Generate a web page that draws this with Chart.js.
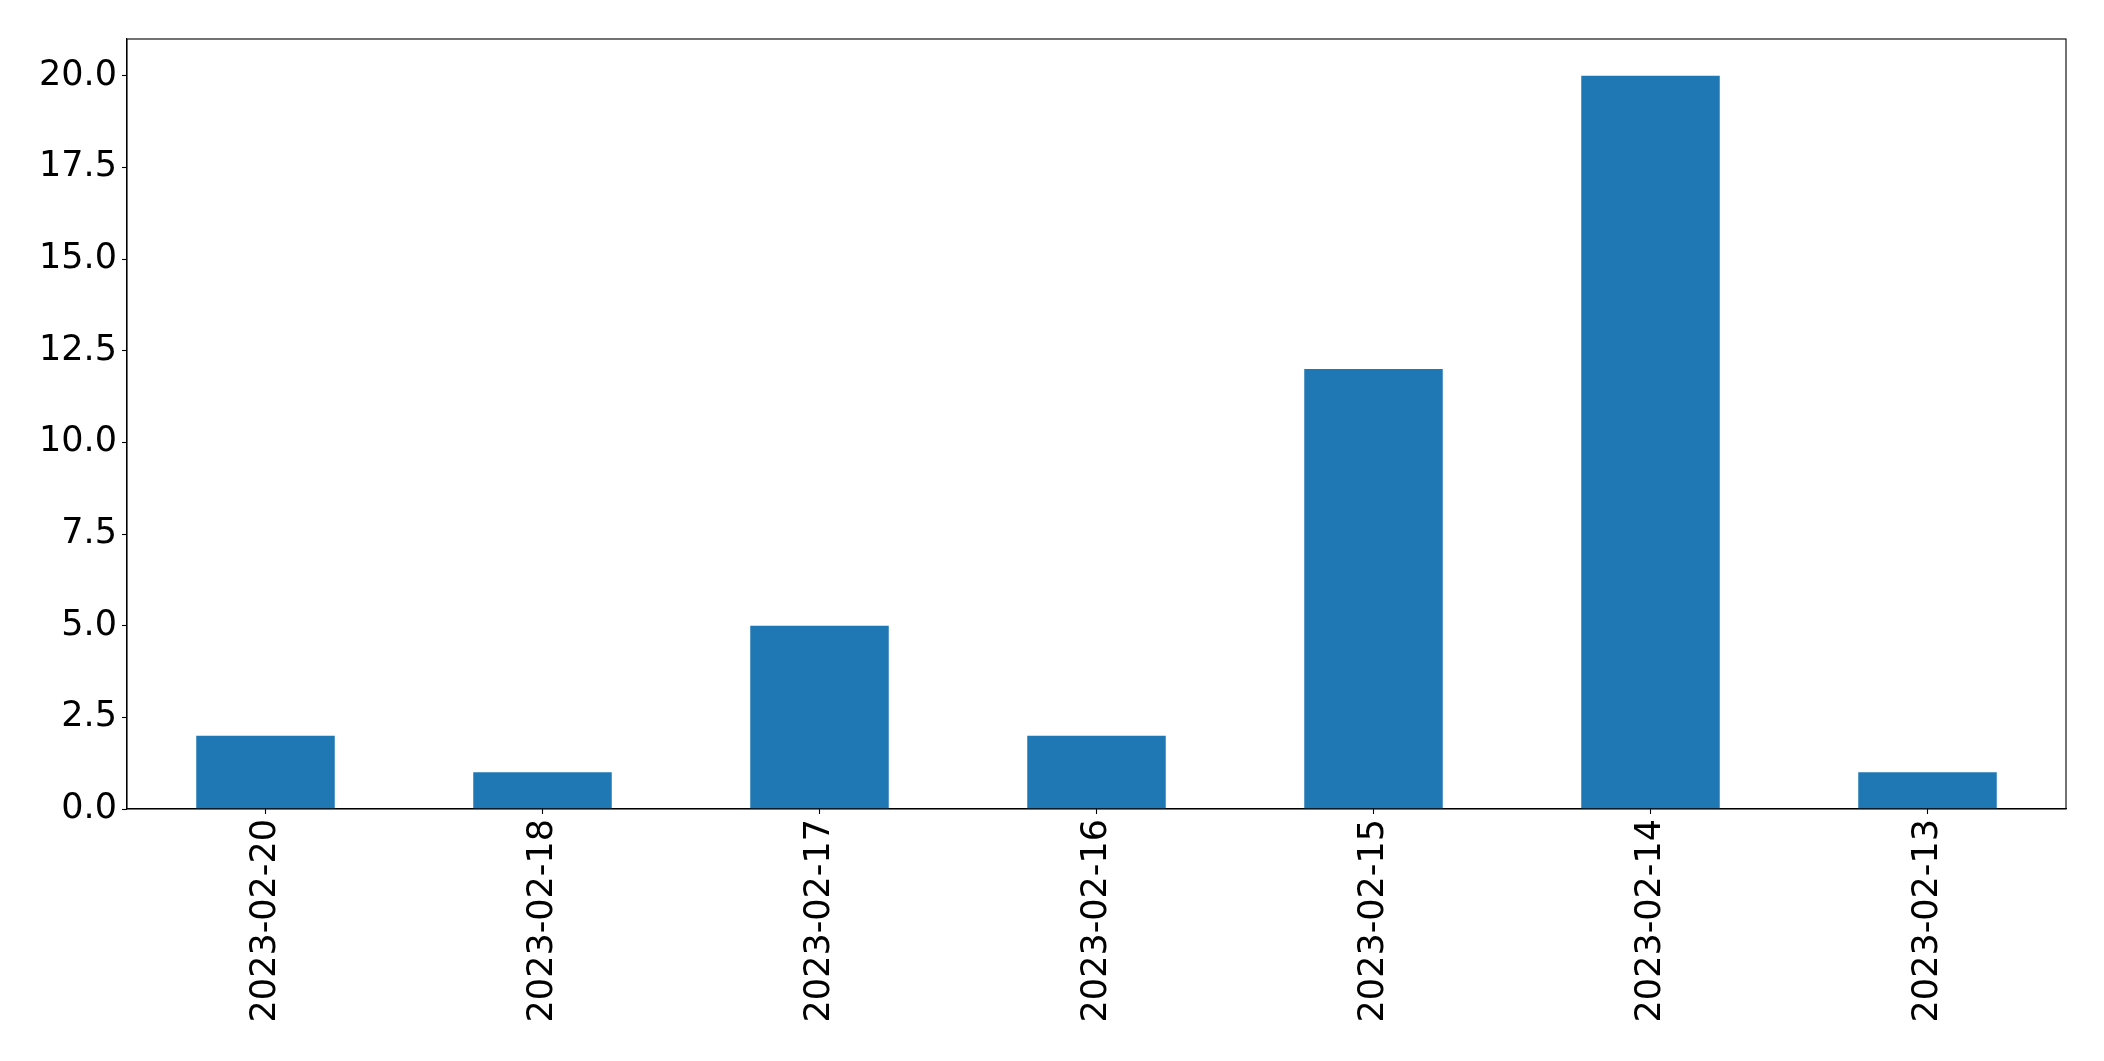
<!DOCTYPE html>
<html>
<head>
<meta charset="utf-8">
<style>
  html, body { margin: 0; padding: 0; background: #fff; }
  canvas { display: block; }
</style>
<script src="https://cdn.jsdelivr.net/npm/chart.js@4/dist/chart.umd.min.js"></script>
</head>
<body>
<canvas id="dateChart" width="2104" height="1061"></canvas>
<script>
const dates = ['2023-02-20', '2023-02-18', '2023-02-17', '2023-02-16', '2023-02-15', '2023-02-14', '2023-02-13'];
const counts = [2, 1, 5, 2, 12, 20, 1];
const yTicks = [0, 2.5, 5, 7.5, 10, 12.5, 15, 17.5, 20];

const fontSpec = { family: 'DejaVu Sans', size: 35 };

// kotak hitam di sekeliling area plot
const frameBox = {
    id: 'frameBox',
    afterDraw(chart) {
        const a = chart.chartArea;
        const ctx = chart.ctx;
        ctx.save();
        ctx.strokeStyle = '#000';
        ctx.lineWidth = 1.1;
        ctx.strokeRect(a.left, a.top, a.right - a.left, a.bottom - a.top);
        ctx.restore();
    }
};

new Chart(document.getElementById('dateChart'), {
    type: 'bar',
    data: {
        labels: dates,
        datasets: [{
            data: counts,
            backgroundColor: '#1f77b4',
            barPercentage: 0.5,
            categoryPercentage: 1.0
        }]
    },
    options: {
        responsive: false,
        animation: false,
        layout: { padding: { top: 39, right: 38, left: 0, bottom: 0 } },
        plugins: {
            legend: { display: false },
            tooltip: { enabled: false }
        },
        scales: {
            x: {
                grid: { offset: false, drawOnChartArea: false, drawTicks: true, tickLength: 5, tickColor: '#000', tickWidth: 1.1 },
                border: { display: true, color: '#000', width: 1.1 },
                ticks: {
                    color: '#000',
                    font: fontSpec,
                    minRotation: 90,
                    maxRotation: 90,
                    autoSkip: false,
                    padding: 5
                },
                afterFit(scale) { scale.height = 252; }
            },
            y: {
                min: 0,
                max: 21,
                grid: { drawOnChartArea: false, drawTicks: true, tickLength: 5, tickColor: '#000', tickWidth: 1.1 },
                border: { display: true, color: '#000', width: 1.1 },
                ticks: {
                    color: '#000',
                    font: fontSpec,
                    padding: 5,
                    includeBounds: false
                },
                afterBuildTicks(scale) {
                    scale.ticks = yTicks.map(v => ({ value: v }));
                },
                afterTickToLabelConversion(scale) {
                    scale.ticks.forEach(t => { t.label = t.value.toFixed(1); });
                },
                afterFit(scale) { scale.width = 127; }
            }
        }
    },
    plugins: [frameBox]
});
</script>
</body>
</html>
